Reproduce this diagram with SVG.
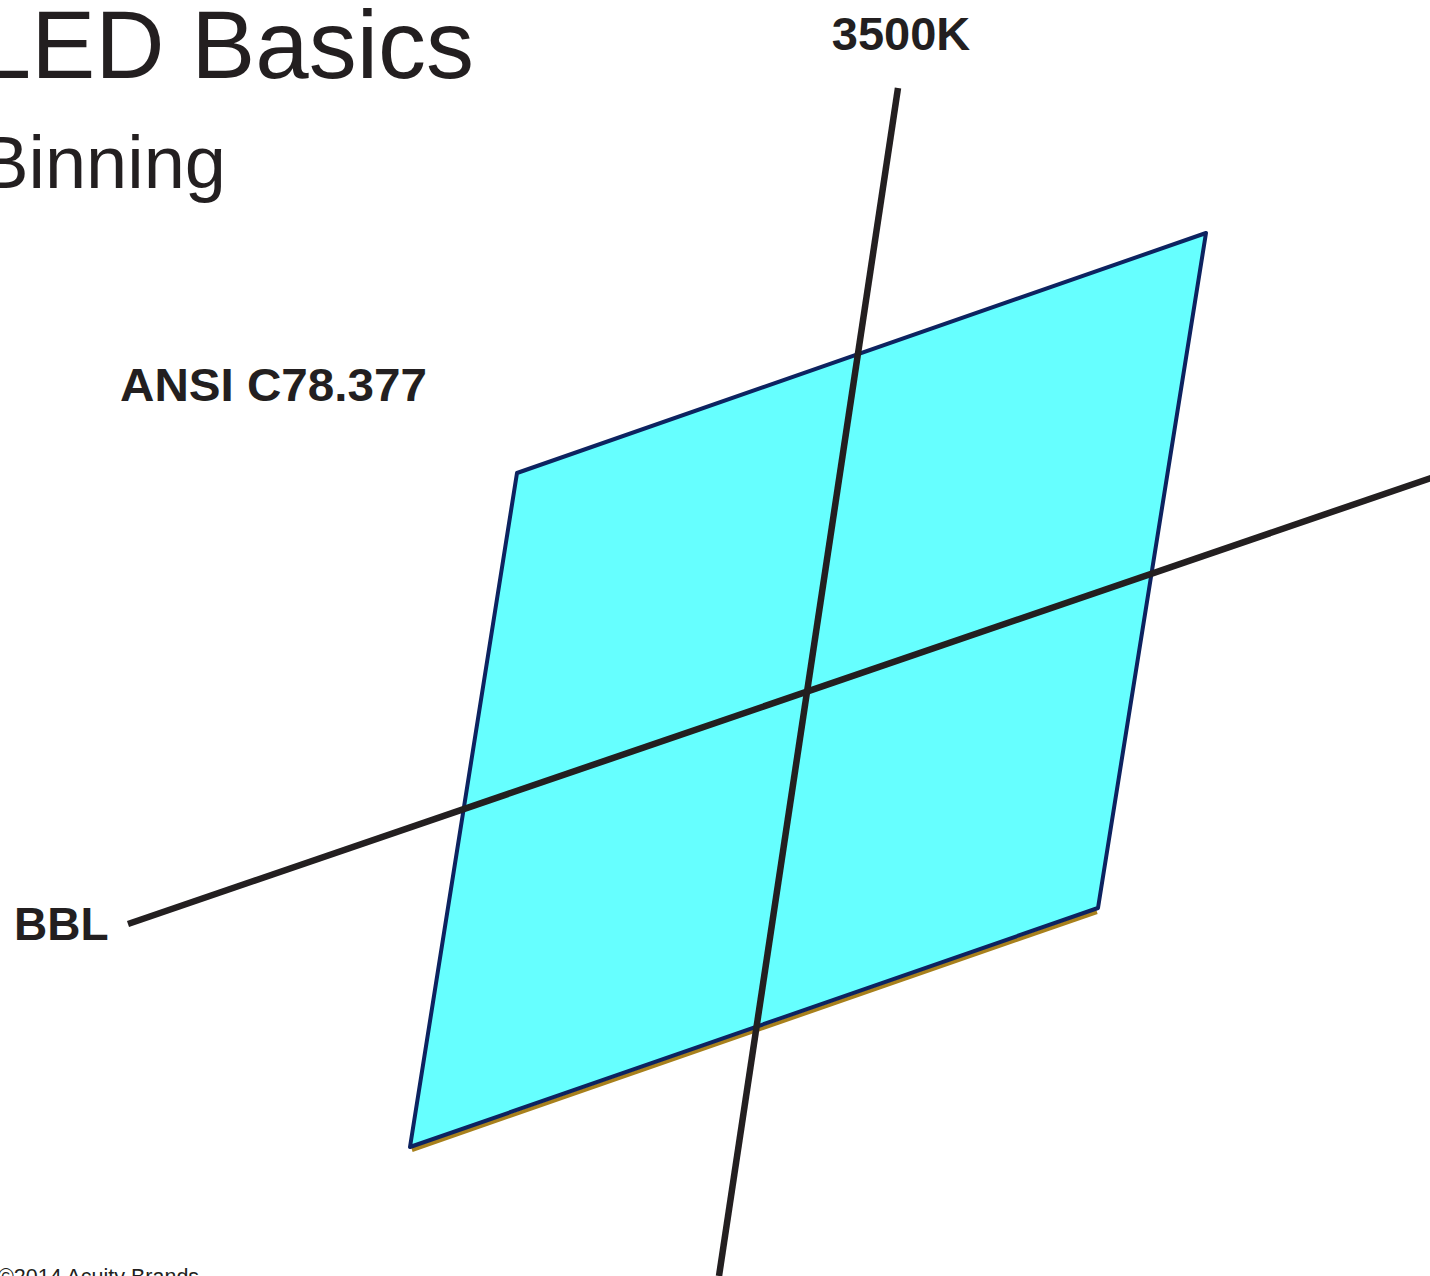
<svg xmlns="http://www.w3.org/2000/svg" width="1430" height="1276" viewBox="0 0 1430 1276">
  <style>
    .title { font-family: "Liberation Sans", Arial, sans-serif; fill: #231f20; }
    .label { font-family: "Liberation Sans", Arial, sans-serif; font-weight: bold; fill: #231f20; }
    .axis { stroke: #231f20; stroke-width: 6.5; fill: none; }
  </style>
  <rect width="1430" height="1276" fill="#ffffff"/>

  <!-- headings -->
  <text class="title" x="474" y="78" font-size="96" text-anchor="end">LED Basics</text>
  <text class="title" x="226" y="188" font-size="74" text-anchor="end">Binning</text>

  <!-- bin quadrangle -->
  <g id="bin">
    <line x1="412" y1="1150" x2="1097" y2="912" stroke="#a8801c" stroke-width="4"/>
    <polygon points="517,473 1206,233 1098,908 410,1147" fill="#66ffff" stroke="#0d2360" stroke-width="4" stroke-linejoin="round"/>
  </g>

  <!-- axes -->
  <g id="connectors">
    <line class="axis" x1="898" y1="88" x2="719" y2="1276"/>
    <line class="axis" x1="128" y1="924" x2="1434" y2="477"/>
  </g>

  <g id="label-3500k"><text class="label" x="901" y="50" font-size="47" text-anchor="middle">3500K</text></g>
  <g id="label-ansi"><text class="label" x="120" y="401" font-size="46" textLength="307" lengthAdjust="spacingAndGlyphs">ANSI C78.377</text></g>
  <g id="label-bbl"><text class="label" x="14" y="940" font-size="46">BBL</text></g>

  <text class="title" x="-2" y="1284" font-size="21.5">©2014 Acuity Brands</text>
</svg>
